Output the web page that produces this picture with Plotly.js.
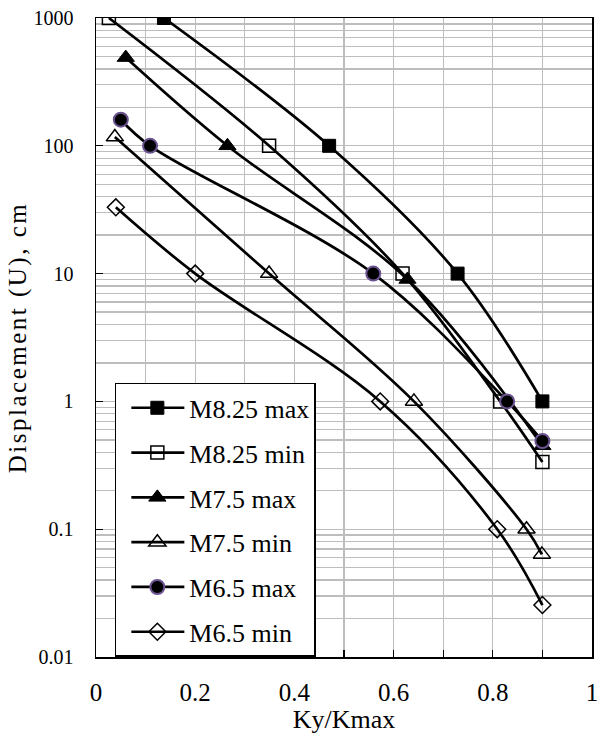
<!DOCTYPE html>
<html>
<head>
<meta charset="utf-8">
<script src="https://cdn.plot.ly/plotly-3.0.1.min.js"></script>
<style>
html,body{margin:0;padding:0;background:#fff;}
#chart{width:607px;height:736px;}
#chart text{font-family:'Liberation Serif','Times New Roman',serif !important;}
#chart .ytitle{letter-spacing:2.5px;}
</style>
</head>
<body>
<div id="chart"></div>
<script>
// Series names
const seriesNames = ["M8.25 max", "M8.25 min", "M7.5 max", "M7.5 min", "M6.5 max", "M6.5 min"];
// Ky/Kmax values
const xM825max = [0.137, 0.47, 0.729, 0.90];
const xM825min = [0.026, 0.349, 0.618, 0.815, 0.90];
const xM75max  = [0.06, 0.265, 0.628, 0.90];
const xM75min  = [0.038, 0.349, 0.641, 0.868, 0.899];
const xM65max  = [0.05, 0.109, 0.559, 0.829, 0.90];
const xM65min  = [0.04, 0.20, 0.573, 0.809, 0.90];
// Displacement (cm)
const yM825max = [1000, 100, 10, 1];
const yM825min = [1000, 100, 10, 1, 0.335];
const yM75max  = [490, 100, 9, 0.45];
const yM75min  = [117, 10, 1, 0.1, 0.0635];
const yM65max  = [160, 100, 10, 1, 0.49];
const yM65min  = [33, 10, 1, 0.1, 0.0255];
// Axis ticks
const xTickVals = [0, 0.2, 0.4, 0.6, 0.8, 1];
const xTickText = ["0", "0.2", "0.4", "0.6", "0.8", "1"];
const yTickVals = [0.01, 0.1, 1, 10, 100, 1000];
const yTickText = ["0.01", "0.1", "1", "10", "100", "1000"];

const xs = [xM825max, xM825min, xM75max, xM75min, xM65max, xM65min];
const ys = [yM825max, yM825min, yM75max, yM75min, yM65max, yM65min];
const markers = [
  {symbol: "square", size: 13, color: "#000", line: {color: "#000", width: 1}},
  {symbol: "square-open", size: 13, color: "#000", line: {color: "#000", width: 1.5}},
  {symbol: "triangle-up", size: 15, color: "#000", line: {color: "#000", width: 1}},
  {symbol: "triangle-up-open", size: 15, color: "#000", line: {color: "#000", width: 1.5}},
  {symbol: "circle", size: 14, color: "#000", line: {color: "#6b5290", width: 2}},
  {symbol: "diamond-open", size: 13, color: "#000", line: {color: "#000", width: 1.5}}
];

const traces = seriesNames.map((n, i) => ({
  type: "scatter",
  mode: "lines+markers",
  name: n,
  legendgroup: "g" + i,
  x: xs[i],
  y: ys[i],
  line: {color: "#000", width: 2.7, shape: "spline", smoothing: 1},
  marker: markers[i]
}));
// empty carrier so the inside-tick overlay axis is drawn
traces.push({type: "scatter", mode: "markers", x: [], y: [], yaxis: "y2", showlegend: false, hoverinfo: "skip"});

const font = "'Liberation Serif', 'Times New Roman', serif";
const gridc = "#bdbdbd";
const layout = {
  width: 607, height: 736,
  margin: {l: 96, r: 15, t: 18, b: 79},
  paper_bgcolor: "#fff", plot_bgcolor: "#fff",
  font: {family: font, color: "#000", size: 21},
  showlegend: true,
  legend: {
    x: 0.038, y: 0.429, xanchor: "left", yanchor: "top",
    bgcolor: "#fff", bordercolor: "#000", borderwidth: 1.5,
    font: {family: font, size: 26, color: "#000"},
    tracegroupgap: 8,
    itemwidth: 63
  },
  xaxis: {
    range: [0, 1],
    tickvals: xTickVals, ticktext: xTickText,
    ticks: "inside", ticklen: 7, tickcolor: "#000", tickwidth: 1.3,
    showgrid: true, gridcolor: gridc, gridwidth: 1.3,
    minor: {dtick: 0.1, showgrid: true, gridcolor: gridc, gridwidth: 1.3, ticks: "inside", ticklen: 7, tickcolor: "#000", tickwidth: 1.3},
    showline: true, linecolor: "#000", linewidth: 1.5, mirror: true,
    zeroline: false,
    ticklabelstandoff: 12,
    tickfont: {family: font, size: 25, color: "#000"},
    title: {text: "Ky/Kmax", font: {family: font, size: 26, color: "#000"}, standoff: 4}
  },
  yaxis: {
    type: "log",
    range: [-2, 3],
    tickvals: yTickVals, ticktext: yTickText,
    ticks: "outside", ticklen: 17, tickcolor: "rgba(0,0,0,0)", tickwidth: 1,
    showgrid: true, gridcolor: gridc, gridwidth: 1.3,
    minor: {dtick: "D1", showgrid: true, gridcolor: gridc, gridwidth: 1.3, ticks: ""},
    showline: true, linecolor: "#000", linewidth: 1.5, mirror: true,
    zeroline: false,
    tickfont: {family: font, size: 20, color: "#000"},
    title: {text: "Displacement (U), cm", font: {family: font, size: 25, color: "#000"}, standoff: 0}
  },
  yaxis2: {
    type: "log",
    range: [-2, 3],
    overlaying: "y", anchor: "x", side: "left",
    tickvals: yTickVals,
    ticks: "inside", ticklen: 7, tickcolor: "#000", tickwidth: 1.3,
    showticklabels: false, showgrid: false, showline: false, zeroline: false
  }
};

Plotly.newPlot("chart", traces, layout, {displayModeBar: false, staticPlot: true}).then(function (gd) {
  // lengthen legend sample lines and centre markers on them
  gd.querySelectorAll(".legend .traces").forEach(function (t) {
    t.querySelectorAll(".legendlines path").forEach(function (p) { p.setAttribute("d", "M15,0h53"); });
    t.querySelectorAll(".legendpoints path").forEach(function (p) { p.setAttribute("transform", "translate(41,0)"); });
  });
});
</script>
</body>
</html>
